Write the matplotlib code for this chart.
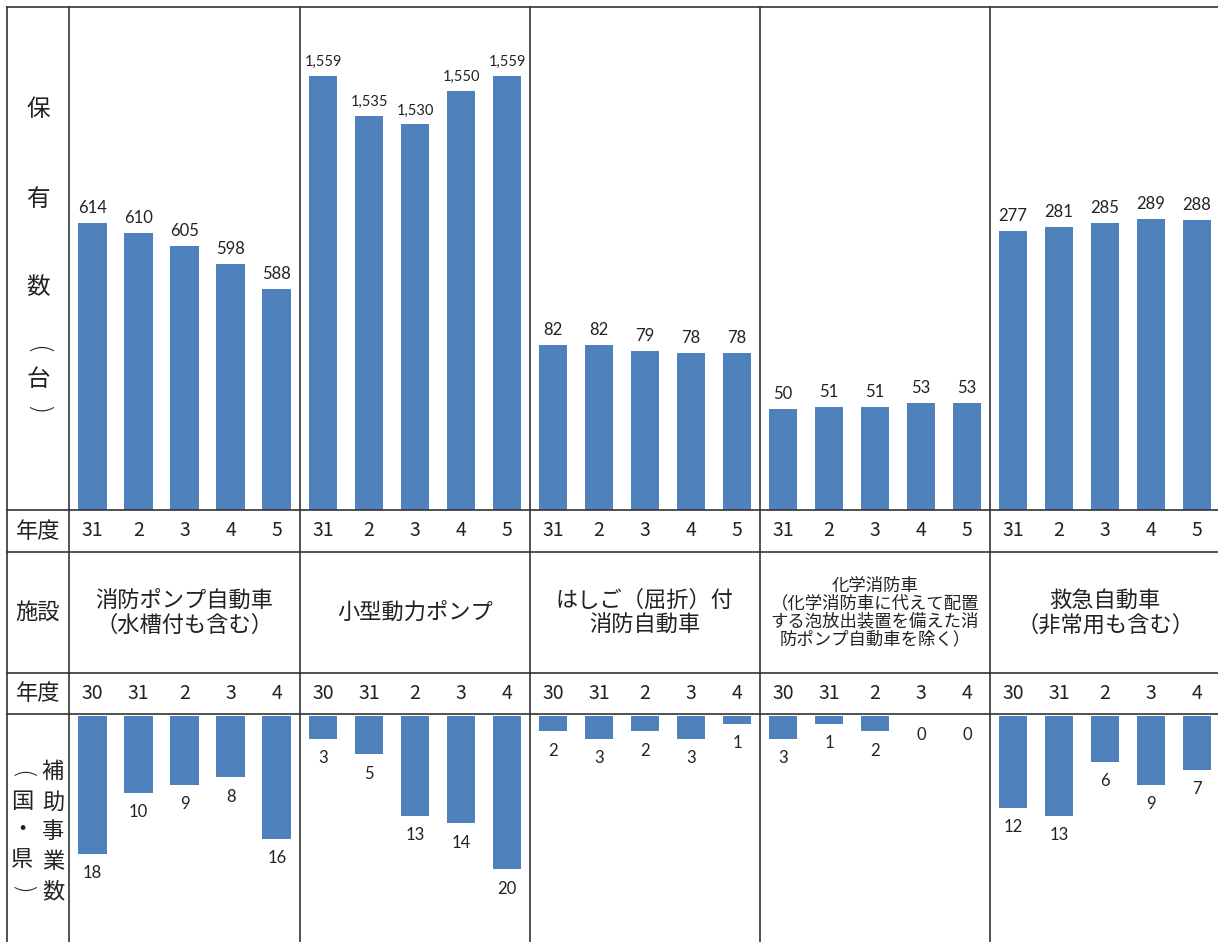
import matplotlib
matplotlib.use("Agg")
import matplotlib.pyplot as plt
from matplotlib.lines import Line2D

plt.rcParams['font.family'] = ['Noto Sans CJK JP', 'DejaVu Sans']

# data
categories = ["消防ポンプ自動車\n（水槽付も含む）",
              "小型動力ポンプ",
              "はしご（屈折）付\n消防自動車",
              "化学消防車\n（化学消防車に代えて配置\nする泡放出装置を備えた消\n防ポンプ自動車を除く）",
              "救急自動車\n（非常用も含む）"]
years_top = ["31", "2", "3", "4", "5"]
years_bottom = ["30", "31", "2", "3", "4"]
owned = [[614, 610, 605, 598, 588],
         [1559, 1535, 1530, 1550, 1559],
         [82, 82, 79, 78, 78],
         [50, 51, 51, 53, 53],
         [277, 281, 285, 289, 288]]
subsidy = [[18, 10, 9, 8, 16],
           [3, 5, 13, 14, 20],
           [2, 3, 2, 3, 1],
           [3, 1, 2, 0, 0],
           [12, 13, 6, 9, 7]]
top_ylims = [(500, 700), (1300, 1600), (0, 250), (0, 250), (0, 500)]

W, H = 1218, 942
BLUE = '#4F81BD'
TXT = '#222222'
NUMFONT = ['Lato', 'DejaVu Sans']
fig = plt.figure(figsize=(W / 100, H / 100), dpi=100)

def fx(px):
    return px / W

def fy(py):
    return 1 - py / H

edges = [69, 300, 530, 760, 990, 1220]
y_top, y_r1, y_r2, y_r3, y_r4 = 7, 510, 552, 673, 714

for g in range(5):
    x0, x1 = edges[g], edges[g + 1]
    # top chart
    ax = fig.add_axes([fx(x0), fy(y_r1), fx(x1 - x0), (y_r1 - y_top) / H])
    bars = ax.bar(range(5), owned[g], width=0.63, color=BLUE)
    ax.set_xlim(-0.5, 4.5)
    ax.set_ylim(*top_ylims[g])
    ax.bar_label(bars, fmt='{:,.0f}', padding=5,
                 fontsize=10.5 if owned[g][0] > 1000 else 12,
                 family=NUMFONT, color=TXT, clip_on=False)
    ax.axis('off')

    # bottom chart (hanging bars)
    axb = fig.add_axes([fx(x0), 0, fx(x1 - x0), (H - y_r4 - 2) / H])
    axb.bar(range(5), subsidy[g], width=0.63, color=BLUE)
    axb.set_xlim(-0.5, 4.5)
    axb.set_ylim(29.5, 0)
    for i, v in enumerate(subsidy[g]):
        axb.annotate(str(v), (i, v), xytext=(0, -14), textcoords='offset points',
                     ha='center', va='center', fontsize=12, family=NUMFONT, color=TXT)
    axb.axis('off')

    # year rows and category names
    slot = (x1 - x0) / 5
    for i in range(5):
        cx = x0 + slot * (i + 0.5)
        fig.text(fx(cx), fy((y_r1 + y_r2) / 2), years_top[i], ha='center', va='center',
                 fontsize=14, color=TXT)
        fig.text(fx(cx), fy((y_r3 + y_r4) / 2), years_bottom[i], ha='center', va='center',
                 fontsize=14, color=TXT)
    small = categories[g].count('\n') > 1
    fig.text(fx((x0 + x1) / 2), fy((y_r2 + y_r3) / 2), categories[g], ha='center', va='center',
             fontsize=12.5 if small else 16, linespacing=1.0 if small else 1.1, color=TXT)

# left header column
fig.text(fx(38), fy((y_r1 + y_r2) / 2), "年度", ha='center', va='center', fontsize=16, color=TXT)
fig.text(fx(38), fy((y_r3 + y_r4) / 2), "年度", ha='center', va='center', fontsize=16, color=TXT)
fig.text(fx(38), fy((y_r2 + y_r3) / 2), "施設", ha='center', va='center', fontsize=16, color=TXT)

def vchar(px, py, ch, size):
    # brackets are turned to their vertical form
    if ch in "()":
        fig.text(fx(px), fy(py), ch, ha='center', va='center', fontsize=size + 2,
                 rotation=-90, color=TXT, family=['DejaVu Sans'], fontweight='light')
    else:
        fig.text(fx(px), fy(py), ch, ha='center', va='center', fontsize=size, color=TXT)

for ch, py in zip(["保", "有", "数", "(", "台", ")"], [110, 200, 288, 350, 380, 410]):
    vchar(38, py, ch, 17)
for ch, py in zip(["補", "助", "事", "業", "数"], [772, 802, 832, 862, 892]):
    vchar(53, py, ch, 16)
for ch, py in zip(["(", "国", "・", "県", ")"], [775, 802, 830, 860, 890]):
    vchar(22, py, ch, 16)

# table lines
lc = '#333333'
for py in [y_top, y_r1, y_r2, y_r3, y_r4]:
    fig.add_artist(Line2D([fx(7), 1], [fy(py), fy(py)], color=lc, lw=1.2))
for px in [7] + edges[:5]:
    fig.add_artist(Line2D([fx(px), fx(px)], [fy(y_top), 0], color=lc, lw=1.2))

fig.savefig('out.png', dpi=100)
